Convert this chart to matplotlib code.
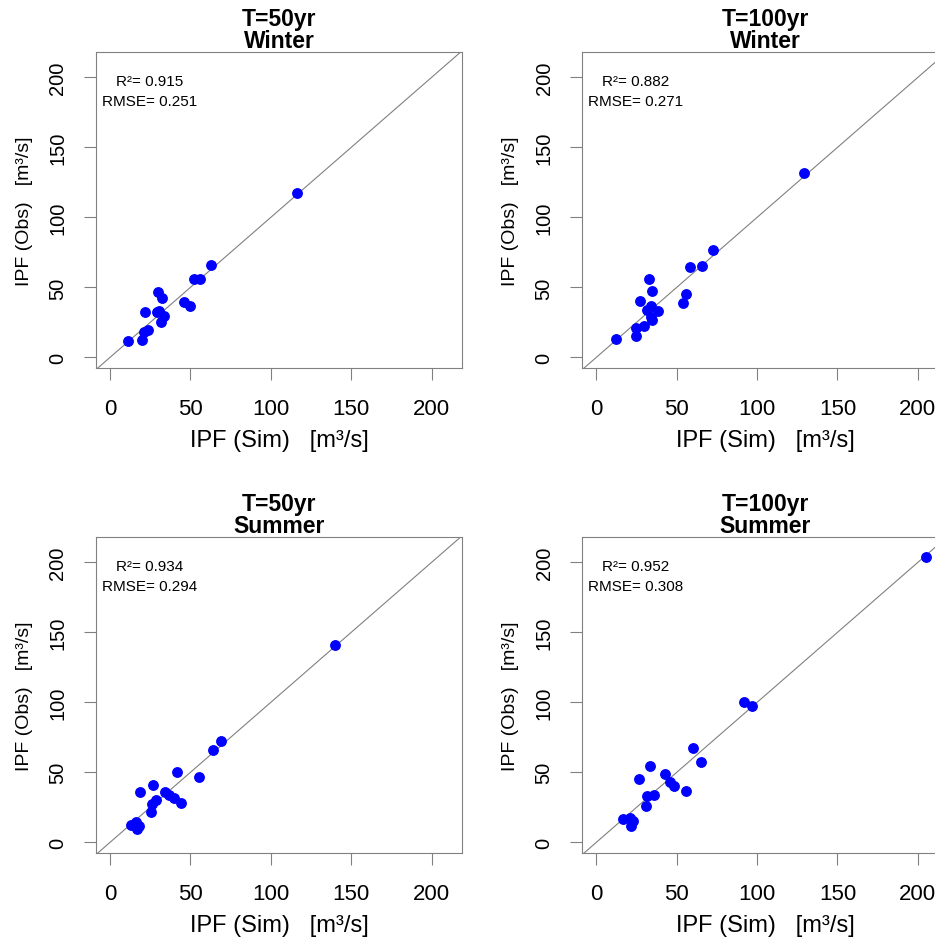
import matplotlib.pyplot as plt

plt.rcParams['font.family'] = ['Liberation Sans', 'DejaVu Sans']

# one pair of lists per panel
sim_w50 = [116.1, 63.0, 52.4, 56.0, 30.0, 32.1, 45.8, 49.8, 21.8, 29.0, 30.7, 33.6, 31.5, 23.8, 21.3, 11.0, 19.7]
obs_w50 = [117.4, 66.1, 55.9, 56.1, 46.4, 42.1, 39.7, 36.4, 32.1, 32.1, 33.3, 29.7, 25.0, 19.5, 17.9, 11.6, 12.1]

sim_w100 = [128.9, 72.8, 58.2, 65.7, 33.0, 34.4, 26.9, 56.0, 53.9, 33.8, 31.3, 38.3, 33.8, 34.6, 29.6, 24.9, 24.9, 12.4]
obs_w100 = [131.6, 76.9, 64.3, 65.4, 55.9, 47.6, 40.4, 45.2, 38.6, 36.9, 34.0, 32.8, 28.6, 26.9, 22.6, 20.9, 15.4, 13.1]

sim_s50 = [140.0, 69.0, 64.3, 41.5, 55.3, 26.7, 18.9, 34.2, 36.7, 39.8, 44.0, 28.6, 26.1, 25.3, 12.9, 16.0, 18.0, 17.0]
obs_s50 = [141.0, 72.6, 65.9, 50.2, 46.9, 41.2, 35.7, 35.7, 34.0, 31.4, 28.3, 30.4, 27.4, 21.4, 12.6, 14.3, 11.9, 9.5]

sim_s100 = [204.8, 91.6, 96.6, 60.3, 64.9, 33.1, 42.7, 26.7, 45.8, 48.3, 56.0, 31.7, 35.8, 30.7, 16.8, 20.7, 23.0, 21.8]
obs_s100 = [203.8, 100.2, 97.4, 67.4, 57.6, 54.7, 48.8, 45.2, 43.3, 40.0, 36.6, 33.3, 33.6, 26.1, 16.6, 17.6, 15.4, 11.9]

periods = ["T=50yr", "T=100yr", "T=50yr", "T=100yr"]
seasons = ["Winter", "Winter", "Summer", "Summer"]
r2 = ["0.915", "0.882", "0.934", "0.952"]
rmse = ["0.251", "0.271", "0.294", "0.308"]
ticks = [0, 50, 100, 150, 200]

sims = [sim_w50, sim_w100, sim_s50, sim_s100]
obss = [obs_w50, obs_w100, obs_s50, obs_s100]

fig = plt.figure(figsize=(9.35, 9.45), dpi=100)

# right column runs past the figure edge like in the original
pos = [[0.1027, 0.6095, 0.3914, 0.3344],
       [0.6228, 0.6095, 0.3914, 0.3344],
       [0.1027, 0.0963, 0.3914, 0.3344],
       [0.6228, 0.0963, 0.3914, 0.3344]]

grey = '#808080'

for i in range(4):
    ax = fig.add_axes(pos[i])
    ax.axline((0, 0), (1, 1), color=grey, lw=0.8)
    ax.plot(sims[i], obss[i], 'o', color='blue', ms=6.8, mec='blue')
    ax.set_xlim(-8.7, 218.9)
    ax.set_ylim(-7.6, 218.1)
    ax.set_xticks(ticks)
    ax.set_yticks(ticks)
    for sp in ax.spines.values():
        sp.set_color(grey)
        sp.set_linewidth(0.8)
    ax.tick_params(direction='out', length=8.6, width=0.8, color=grey)
    # the original is stretched sideways, so horizontal text is a bit bigger
    ax.tick_params(axis='x', labelsize=16, pad=13)
    ax.tick_params(axis='y', labelsize=14.5, pad=12, labelrotation=90)
    for lab in ax.get_yticklabels():
        lab.set_va('center')
    ax.set_xlabel("IPF (Sim)   [m³/s]", fontsize=17, labelpad=7)
    ax.set_ylabel("IPF (Obs)   [m³/s]", fontsize=14, labelpad=11)

    ax.text(0.5, 1, periods[i] + "\n" + seasons[i], transform=ax.transAxes,
            ha='center', va='bottom', fontsize=16.5, fontweight='bold',
            linespacing=0.92)

    ax.text(24.6, 194.5, "R²= " + r2[i], ha='center', va='baseline', fontsize=11)
    ax.text(24.6, 180.2, "RMSE= " + rmse[i], ha='center', va='baseline', fontsize=11)

fig.savefig("out.png", dpi=100)
